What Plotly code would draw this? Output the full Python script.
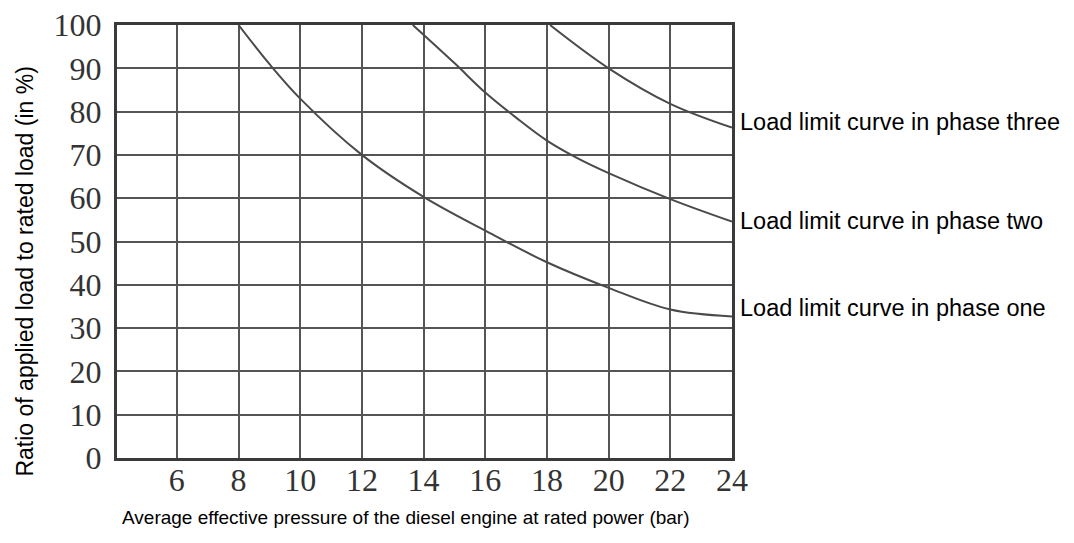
import plotly.graph_objects as go

# Data
phase_one_x = [8, 9, 10, 12, 14, 16, 18, 20, 22, 24]
phase_one_y = [100, 91, 83, 70, 60.3, 52.5, 45.2, 39.3, 34.3, 32.7]

phase_two_x = [13.65, 15, 16, 17, 18, 19, 20, 22, 24]
phase_two_y = [100, 91.2, 84.4, 78.6, 73.3, 69.2, 65.8, 59.8, 54.6]

phase_three_x = [18.1, 20, 22, 24]
phase_three_y = [100, 90, 81.8, 76.3]

x_ticks = [6, 8, 10, 12, 14, 16, 18, 20, 22, 24]
y_ticks = [0, 10, 20, 30, 40, 50, 60, 70, 80, 90, 100]

curve_labels = ["Load limit curve in phase three",
                "Load limit curve in phase two",
                "Load limit curve in phase one"]
label_y = [77.6, 54.8, 34.6]

x_title = "Average effective pressure of the diesel engine at rated power (bar)"
y_title = "Ratio of applied load to rated load (in %)"

line_color = "#4a4a4a"
fig = go.Figure()
for xs, ys in [(phase_one_x, phase_one_y), (phase_two_x, phase_two_y), (phase_three_x, phase_three_y)]:
    fig.add_trace(go.Scatter(x=xs, y=ys, mode="lines",
                             line=dict(color=line_color, width=2, shape="spline", smoothing=1.0),
                             showlegend=False, hoverinfo="skip"))

for txt, yv in zip(curve_labels, label_y):
    fig.add_annotation(text=txt, xref="paper", x=1, xshift=6, xanchor="left",
                       yref="y", y=yv, yanchor="middle", showarrow=False,
                       font=dict(family="Liberation Sans, Arial, sans-serif", size=23.5, color="#000"))

fig.add_annotation(text=x_title, xref="paper", yref="paper", x=0.005, y=-0.138,
                   xanchor="left", yanchor="middle", showarrow=False,
                   font=dict(family="Liberation Sans, Arial, sans-serif", size=19, color="#000"))
fig.add_annotation(text=y_title, xref="paper", yref="paper", x=-0.15, y=0.43,
                   xanchor="center", yanchor="middle", textangle=-90, showarrow=False,
                   font=dict(family="Liberation Sans, Arial, sans-serif", size=23, color="#000"))

tick_font = dict(family="Liberation Serif, Times New Roman, serif", size=32, color="#333")
fig.update_xaxes(range=[4.06, 24], tickvals=x_ticks, showgrid=True, gridcolor="#555", gridwidth=2,
                 showline=True, linecolor="#3a3a3a", linewidth=3, mirror=True, zeroline=False,
                 ticks="", tickfont=tick_font, ticklabelstandoff=-8, ticklabeloverflow="allow",
                 automargin=False)
fig.update_yaxes(range=[0, 100], tickvals=y_ticks, showgrid=True, gridcolor="#555", gridwidth=2,
                 showline=True, linecolor="#3a3a3a", linewidth=3, mirror=True, zeroline=False,
                 ticks="", tickfont=tick_font, ticklabelstandoff=6, ticklabeloverflow="allow",
                 automargin=False)

fig.update_layout(width=1058, height=527, autosize=False,
                  margin=dict(l=109, r=334, t=17, b=77),
                  plot_bgcolor="white", paper_bgcolor="white")

fig.write_html("out.html")
